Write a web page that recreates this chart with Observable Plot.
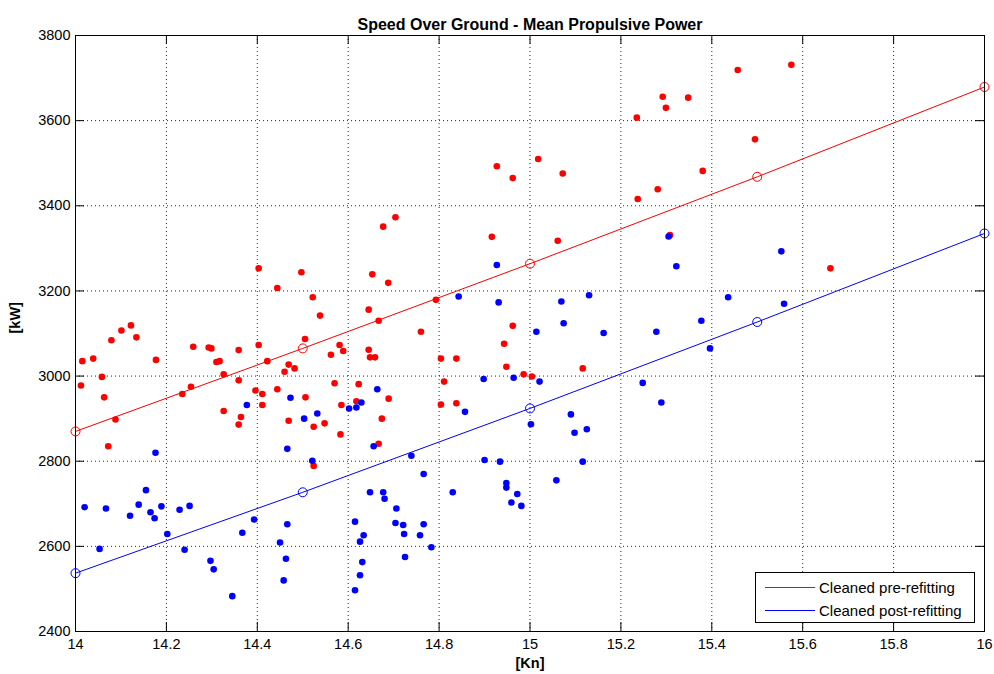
<!DOCTYPE html>
<html>
<head>
<meta charset="utf-8">
<script src="https://cdn.jsdelivr.net/npm/d3@7"></script>
<script src="https://cdn.jsdelivr.net/npm/@observablehq/plot@0.6"></script>
<style>
  html, body { margin: 0; padding: 0; background: #fff; }
  #wrap { position: relative; width: 994px; height: 674px; font-family: "Liberation Sans", Arial, sans-serif; }
  #legend { position: absolute; left: 755px; top: 572px; width: 220px; height: 51px; box-sizing: border-box;
            border: 1px solid #000; background: #fff; font-size: 15px; color: #000; }
  .row { position: absolute; left: 9px; height: 20px; display: flex; align-items: center; white-space: nowrap; }
  .swatch { width: 50px; height: 0; border-top: 1px solid; margin-right: 4px; }
</style>
</head>
<body>
<div id="wrap">
  <div id="chart"></div>
  <div id="legend"></div>
</div>
<script>
// ---- Data ----
const title = "Speed Over Ground - Mean Propulsive Power";
const xLabel = "[Kn]";
const yLabel = "[kW]";
const xTicks = [14, 14.2, 14.4, 14.6, 14.8, 15, 15.2, 15.4, 15.6, 15.8, 16];
const yTicks = [2400, 2600, 2800, 3000, 3200, 3400, 3600, 3800];
const seriesNames = ["Cleaned pre-refitting", "Cleaned post-refitting"];
const seriesColors = ["#ff0000", "#0000ff"];

// Cleaned pre-refitting (red)
const preSpeed = [14.012,14.015,14.039,14.058,14.063,14.072,14.079,14.088,14.101,14.122,14.134,14.177,14.235,14.254,14.259,14.293,14.299,14.310,14.317,14.326,14.326,14.359,14.359,14.364,14.359,14.403,14.403,14.422,14.396,14.411,14.411,14.444,14.460,14.469,14.482,14.444,14.497,14.505,14.506,14.469,14.522,14.538,14.524,14.548,14.524,14.581,14.589,14.562,14.570,14.585,14.583,14.645,14.653,14.667,14.645,14.648,14.659,14.623,14.618,14.674,14.689,14.667,14.677,14.688,14.704,14.760,14.793,14.804,14.838,14.811,14.804,14.838,14.916,14.927,14.962,14.943,14.962,14.948,14.986,15.004,15.018,15.072,15.061,15.116,15.235,15.292,15.299,15.348,15.380,15.237,15.281,15.308,15.457,15.575,15.495,15.661];
const prePower = [2978,3035,3041,2998,2950,2835,3084,2898,3107,3119,3091,3038,2958,2975,3069,3067,3065,3033,3035,3004,2918,3061,2990,2904,2886,3253,3073,3035,2966,2958,2932,3207,3010,3027,3018,2969,3244,3087,2950,2895,3185,3142,2881,2889,2789,3073,3059,3050,2983,2932,2863,3156,3239,3130,3062,3044,3044,2981,2941,2900,2947,2841,3351,3219,3373,3104,3179,3041,3041,2987,2933,2936,3327,3493,3465,3076,3118,3022,3004,2999,3510,3476,3318,3018,3607,3656,3630,3654,3482,3416,3439,3331,3719,3731,3556,3253];

// Cleaned post-refitting (blue)
const postSpeed = [14.020,14.053,14.067,14.120,14.139,14.155,14.165,14.174,14.176,14.189,14.202,14.229,14.240,14.251,14.297,14.304,14.345,14.367,14.377,14.393,14.450,14.458,14.463,14.466,14.466,14.473,14.503,14.521,14.532,14.602,14.615,14.615,14.618,14.626,14.626,14.629,14.631,14.634,14.648,14.656,14.664,14.677,14.680,14.706,14.704,14.721,14.723,14.725,14.739,14.758,14.766,14.766,14.783,14.830,14.843,14.857,14.898,14.900,14.927,14.931,14.934,14.948,14.948,14.959,14.964,14.972,14.981,15.002,15.014,15.021,15.058,15.069,15.074,15.090,15.098,15.116,15.125,15.130,15.162,15.248,15.278,15.289,15.305,15.322,15.377,15.396,15.436,15.553,15.559];
const postPower = [2692,2594,2689,2672,2698,2732,2680,2666,2820,2694,2629,2686,2592,2695,2566,2546,2483,2632,2932,2663,2609,2520,2571,2652,2829,2949,2900,2801,2912,2924,2658,2497,2926,2611,2532,2938,2563,2626,2727,2835,2969,2727,2712,2689,2655,2650,2629,2575,2813,2626,2770,2652,2598,2727,3187,2916,2993,2803,3261,3173,2799,2749,2738,2703,2996,2723,2695,2887,3104,2987,2755,3175,3124,2910,2867,2799,2875,3190,3101,2984,3104,2938,3328,3258,3130,3065,3185,3293,3170];

// Fitted curves (with circle markers)
const fitSpeed = [14, 14.5, 15, 15.5, 16];
const preFit = [2870, 3065, 3264, 3468, 3679];
const postFit = [2537, 2727, 2924, 3127, 3335];

// ---- Build tables ----
const pre = preSpeed.map((s, i) => ({speed: s, power: prePower[i]}));
const post = postSpeed.map((s, i) => ({speed: s, power: postPower[i]}));
const preLine = fitSpeed.map((s, i) => ({speed: s, power: preFit[i]}));
const postLine = fitSpeed.map((s, i) => ({speed: s, power: postFit[i]}));

const W = 994, H = 674, mL = 75, mR = 10, mT = 35, mB = 43;
const innerW = W - mL - mR, innerH = H - mT - mB, tickLen = 9;
const font = "'Liberation Sans', Arial, sans-serif";

const chart = Plot.plot({
  width: W, height: H,
  marginLeft: mL, marginRight: mR, marginTop: mT, marginBottom: mB,
  style: {fontFamily: font, fontSize: "14px", background: "#fff", color: "#000", overflow: "visible"},
  x: {domain: [14, 16], label: null},
  y: {domain: [2400, 3800], label: null},
  marks: [
    Plot.gridX(xTicks.slice(1, -1), {stroke: "#000", strokeOpacity: 0.85, strokeDasharray: "1,3"}),
    Plot.gridY(yTicks.slice(1, -1), {stroke: "#000", strokeOpacity: 0.85, strokeDasharray: "1,3"}),
    // inward ticks on all four sides
    Plot.ruleX(xTicks, {stroke: "#000", insetTop: innerH - tickLen}),
    Plot.ruleX(xTicks, {stroke: "#000", insetBottom: innerH - tickLen}),
    Plot.ruleY(yTicks, {stroke: "#000", insetLeft: innerW - tickLen}),
    Plot.ruleY(yTicks, {stroke: "#000", insetRight: innerW - tickLen}),
    Plot.axisX({ticks: xTicks, tickSize: 0, tickPadding: 7, fontSize: 14.5, tickFormat: d => String(d), label: null}),
    Plot.axisY({ticks: yTicks, tickSize: 0, tickPadding: 5, fontSize: 14.5, tickFormat: d => String(d), label: null}),
    // scatter points
    Plot.dot(pre, {x: "speed", y: "power", r: 3.3, fill: seriesColors[0], stroke: "none"}),
    Plot.dot(post, {x: "speed", y: "power", r: 3.3, fill: seriesColors[1], stroke: "none"}),
    // fit lines
    Plot.line(preLine, {x: "speed", y: "power", stroke: seriesColors[0], strokeWidth: 1, curve: "linear"}),
    Plot.line(postLine, {x: "speed", y: "power", stroke: seriesColors[1], strokeWidth: 1, curve: "linear"}),
    Plot.dot(preLine, {x: "speed", y: "power", r: 4.5, fill: "none", stroke: seriesColors[0], strokeWidth: 1}),
    Plot.dot(postLine, {x: "speed", y: "power", r: 4.5, fill: "none", stroke: seriesColors[1], strokeWidth: 1}),
    Plot.frame({stroke: "#000"}),
    // titles
    Plot.text([title], {frameAnchor: "top", dy: -17, fontSize: 16, fontWeight: "bold", fill: "#000"}),
    Plot.text([xLabel], {frameAnchor: "bottom", dy: 36, fontSize: 14.5, fontWeight: "bold", fill: "#000"}),
    Plot.text([yLabel], {frameAnchor: "left", dx: -60, rotate: -90, fontSize: 14.5, fontWeight: "bold", fill: "#000"})
  ]
});
document.getElementById("chart").appendChild(chart);

// legend
const legend = document.getElementById("legend");
seriesNames.forEach((name, i) => {
  const row = document.createElement("div");
  row.className = "row";
  row.style.top = (i === 0 ? 4 : 27) + "px";
  const sw = document.createElement("span");
  sw.className = "swatch";
  sw.style.borderTopColor = seriesColors[i];
  const label = document.createElement("span");
  label.textContent = name;
  row.appendChild(sw); row.appendChild(label);
  legend.appendChild(row);
});
</script>
</body>
</html>
